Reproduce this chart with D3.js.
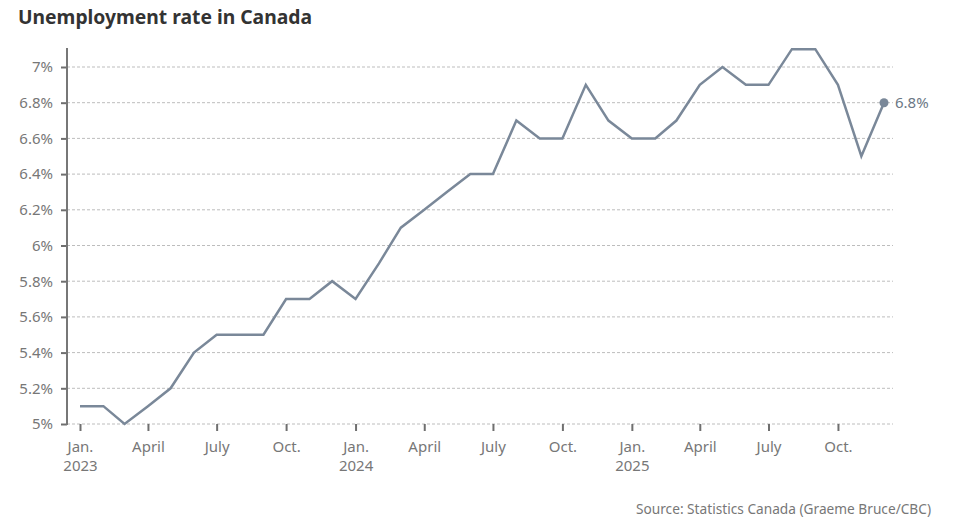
<!DOCTYPE html>
<html><head><meta charset="utf-8">
<script src="https://cdn.jsdelivr.net/npm/d3@7"></script>
<style>
body{margin:0;background:#fff;}
svg{display:block;font-family:"Noto Sans",sans-serif;}
</style></head><body>
<svg id="c" width="957" height="520"></svg>
<script>
const months = ["2023-01","2023-02","2023-03","2023-04","2023-05","2023-06","2023-07","2023-08","2023-09","2023-10","2023-11","2023-12",
"2024-01","2024-02","2024-03","2024-04","2024-05","2024-06","2024-07","2024-08","2024-09","2024-10","2024-11","2024-12",
"2025-01","2025-02","2025-03","2025-04","2025-05","2025-06","2025-07","2025-08","2025-09","2025-10","2025-11","2025-12"];
const rates = [5.1,5.1,5.0,5.1,5.2,5.4,5.5,5.5,5.5,5.7,5.7,5.8,
5.7,5.9,6.1,6.2,6.3,6.4,6.4,6.7,6.6,6.6,6.9,6.7,
6.6,6.6,6.7,6.9,7.0,6.9,6.9,7.1,7.1,6.9,6.5,6.8];
const yTicks = [5,5.2,5.4,5.6,5.8,6,6.2,6.4,6.6,6.8,7];
const xTickMonths = ["2023-01","2023-04","2023-07","2023-10","2024-01","2024-04","2024-07","2024-10","2025-01","2025-04","2025-07","2025-10"];
const monthNames = {"01":"Jan.","04":"April","07":"July","10":"Oct."};
const title = "Unemployment rate in Canada";
const source = "Source: Statistics Canada (Graeme Bruce/CBC)";

(function(){
const parse = d3.timeParse("%Y-%m");
const data = months.map((m,i)=>({date:parse(m), v:rates[i]}));
const svg = d3.select("#c");
const mLeft=67, mRight=893, mTop=48, mBottom=424;
const x = d3.scaleTime().domain([parse("2023-01"),parse("2025-12")]).range([80,884]);
const y = d3.scaleLinear().domain([5,7]).range([mBottom,67]);

svg.append("text").attr("x",18).attr("y",24).attr("font-size",19.3).attr("font-weight",700)
  .attr("fill","#333").text(title);

svg.append("g").selectAll("line").data(yTicks).join("line")
  .attr("x1",mLeft).attr("x2",mRight).attr("y1",d=>y(d)).attr("y2",d=>y(d))
  .attr("stroke","#bdbdbd").attr("stroke-width",1).attr("stroke-dasharray","3,2");

const ya = svg.append("g").attr("transform",`translate(${mLeft},0)`)
  .call(d3.axisLeft(y).tickValues(yTicks).tickSize(6).tickPadding(8).tickFormat(d=>d3.format("~g")(d)+"%"));
ya.select(".domain").remove();
ya.selectAll(".tick line").attr("stroke","#6f6f6f").attr("stroke-width",2);
ya.selectAll("text").attr("font-size",15).attr("fill","#777").attr("font-family","Noto Sans, sans-serif");
svg.append("line").attr("x1",mLeft).attr("x2",mLeft).attr("y1",mTop).attr("y2",mBottom+1)
  .attr("stroke","#777").attr("stroke-width",2);

const xa = svg.append("g").attr("transform",`translate(0,${mBottom})`)
  .call(d3.axisBottom(x).tickValues(xTickMonths.map(parse)).tickSize(7).tickFormat(""));
xa.select(".domain").remove();
xa.selectAll(".tick line").attr("stroke","#6f6f6f").attr("stroke-width",2);
xa.selectAll(".tick").each(function(d){
  const m = d3.timeFormat("%m")(d);
  const t = d3.select(this).append("text").attr("text-anchor","middle").attr("font-size",15)
    .attr("fill","#777").attr("font-family","Noto Sans, sans-serif");
  t.append("tspan").attr("x",0).attr("y",28).text(monthNames[m]);
  if(m==="01") t.append("tspan").attr("x",0).attr("y",47).text(d3.timeFormat("%Y")(d));
});

svg.append("path").datum(data)
  .attr("d",d3.line().x(d=>x(d.date)).y(d=>y(d.v)))
  .attr("fill","none").attr("stroke","#7a8899").attr("stroke-width",2.5).attr("stroke-linejoin","miter");

const last = data[data.length-1];
svg.append("circle").attr("cx",x(last.date)).attr("cy",y(last.v)).attr("r",4.5).attr("fill","#7a8899");
svg.append("text").attr("x",x(last.date)+11).attr("y",y(last.v)+5).attr("font-size",15)
  .attr("fill","#6b7785").text(d3.format("~g")(last.v)+"%");

svg.append("text").attr("x",931).attr("y",514).attr("text-anchor","end").attr("font-size",14)
  .attr("fill","#777").attr("textLength",295).attr("lengthAdjust","spacingAndGlyphs").text(source);
})();
</script>
</body></html>
